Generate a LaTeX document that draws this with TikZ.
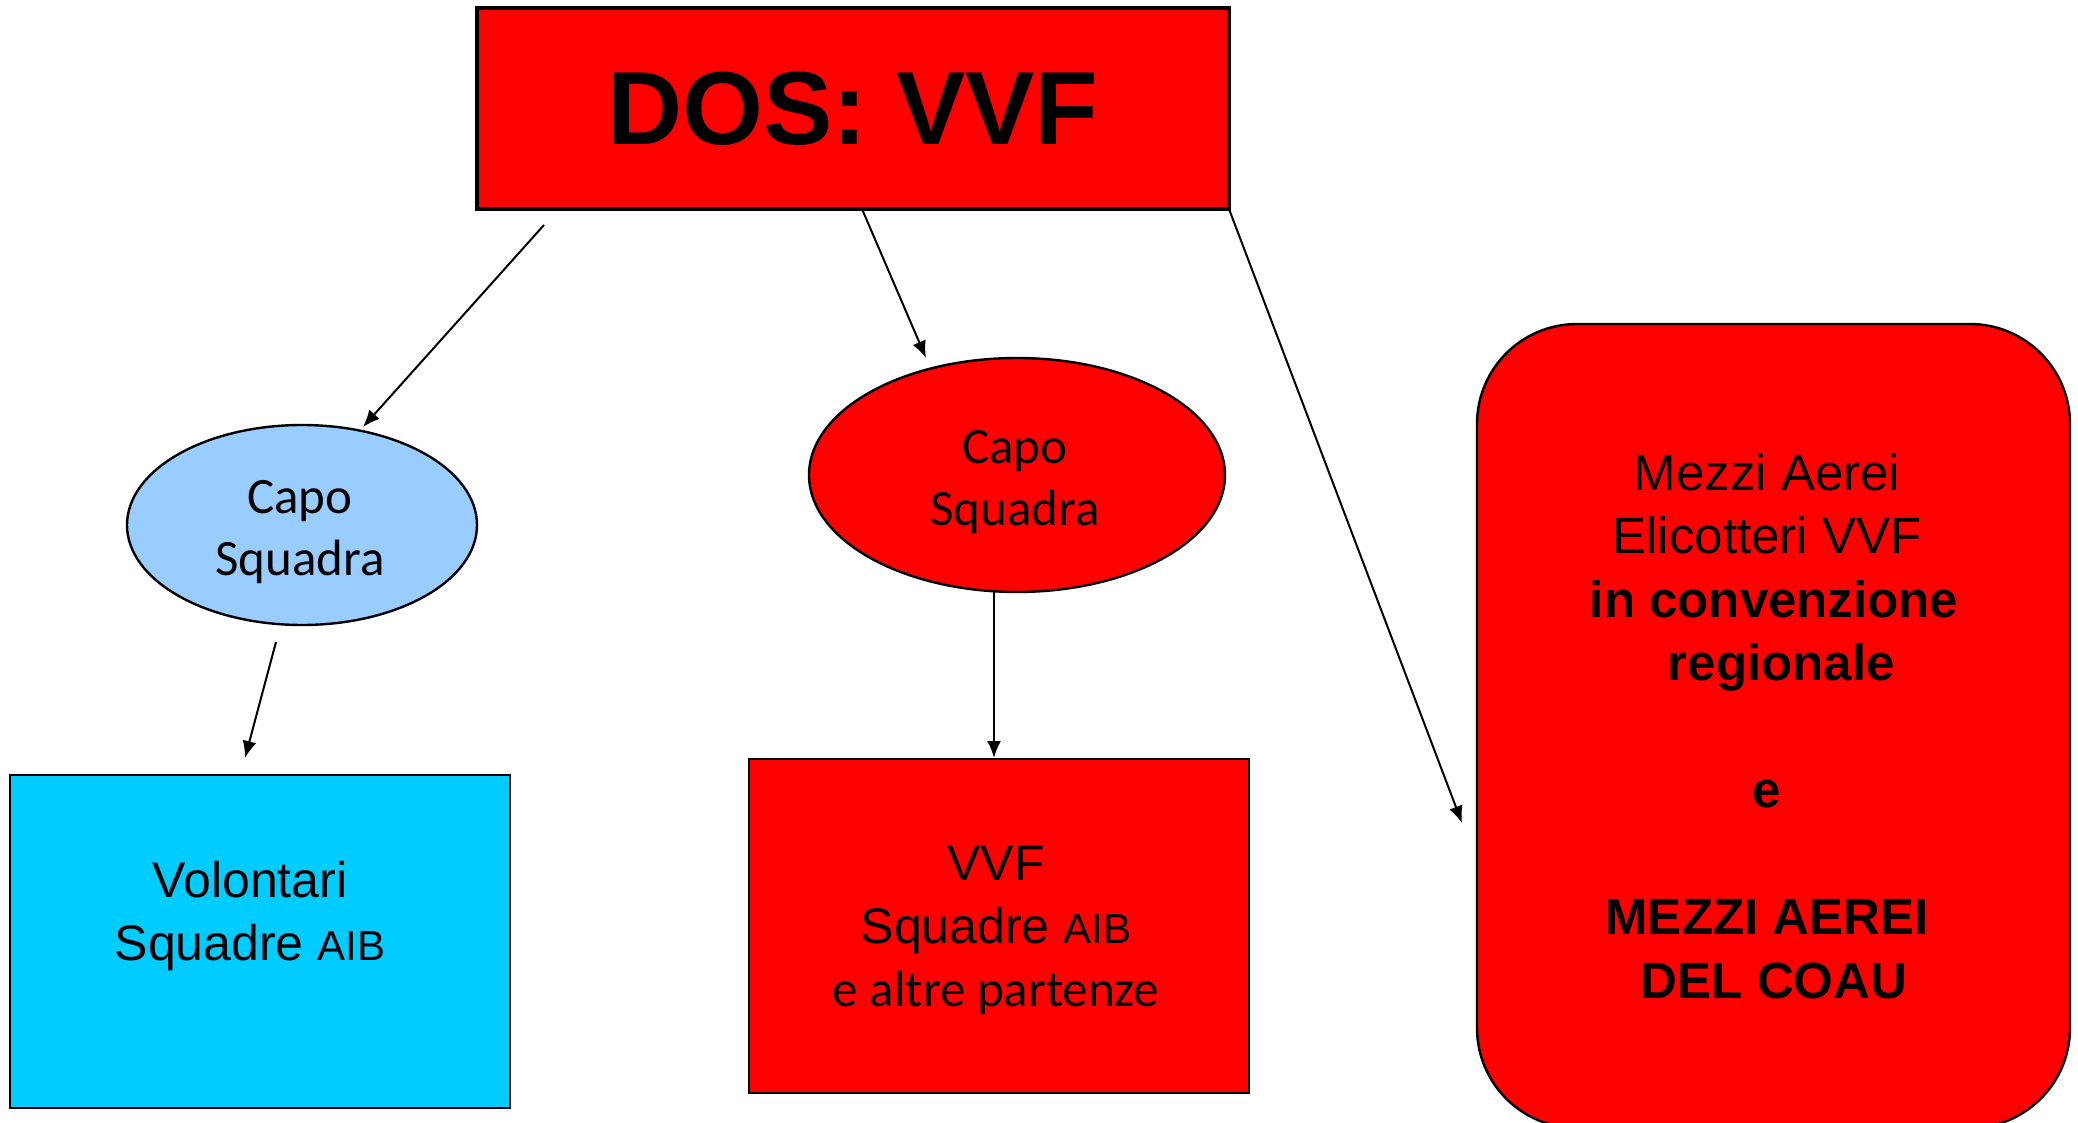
\documentclass[tikz,border=0pt]{standalone}
\usepackage{fontspec}
\setmainfont{Liberation Sans}
\newfontfamily\calib{Carlito}
\usetikzlibrary{arrows.meta,shapes.geometric}
\definecolor{vred}{HTML}{FF0000}
\definecolor{lblue}{HTML}{99CCFF}
\definecolor{cbox}{HTML}{00CCFF}
\begin{document}
\begin{tikzpicture}[x=0.5pt,y=-0.5pt,
  boxshape/.style={rectangle, draw=black, line width=1.3pt, inner sep=0pt, outer sep=0pt},
  oval/.style={ellipse, draw=black, line width=1.2pt, inner sep=0pt, outer sep=0pt},
  ovaltxt/.style={align=center, inner sep=0pt, font=\calib\fontsize{25.5}{31}\selectfont},
  conn/.style={-{Latex[length=8.5pt,width=7pt]}, line width=1pt},
  txt/.style={align=center, inner sep=0pt, font=\fontsize{25}{31.5}\selectfont}
]
\useasboundingbox (0,0) rectangle (2078,1123);
\fill[white] (0,0) rectangle (2078,1123);

% top box
\node[boxshape, fill=vred, line width=2pt, minimum width=376pt, minimum height=100.5pt,
  font=\bfseries\fontsize{52}{60}\selectfont] (dos) at (853,108.5) {DOS: VVF};

% ellipses
\node[oval, fill=lblue, minimum width=175pt, minimum height=100pt] (cs1) at (302,525) {};
\node[ovaltxt] (cs1txt) at (300,532) {Capo\\Squadra};
\node[oval, fill=vred, minimum width=208pt, minimum height=117pt] (cs2) at (1017,475) {};
\node[ovaltxt] (cs2txt) at (1015,482) {Capo\\Squadra};

% blue box
\node[boxshape, fill=cbox, minimum width=250pt, minimum height=166.5pt] (vol) at (260,941.5) {};
\node[txt] (voltxt) at (250,916) {Volontari\\Squadre {\fontsize{21}{31.5}\selectfont AIB}};

% middle red box
\node[boxshape, fill=vred, minimum width=250pt, minimum height=167pt] (vvf) at (999,926) {};
\node[txt] (vvftxt) at (996,930)
  {VVF\\Squadre {\fontsize{21}{31.5}\selectfont AIB}\\{\calib\fontsize{25.5}{31.5}\selectfont e altre partenze}};

% right rounded box
\node[rectangle, draw=black, line width=1.2pt, rounded corners=50pt, fill=vred,
  minimum width=296.5pt, minimum height=402pt, inner sep=0pt] (aerei) at (1773.5,726) {};
\node[align=center, inner sep=0pt, font=\fontsize{25.5}{31.75}\selectfont] (aereitxt) at (1767,726)
  {Mezzi Aerei\\Elicotteri VVF\\\textbf{\ in convenzione}\\\textbf{\ \ regionale}\\~\\\textbf{e}\\~\\\textbf{MEZZI AEREI}\\\textbf{\ DEL COAU}};

% connector end points
\coordinate (a1s) at (544,225);
\coordinate (a1e) at (363,427);
\coordinate (a2s) at (862,209);
\coordinate (a2e) at (926,358);
\coordinate (a3e) at (1462,823);
\coordinate (a4s) at (276,642);
\coordinate (a4e) at (245,758);
\coordinate (a5s) at (994,592);
\coordinate (a5e) at (994,758);

\draw[conn] (a1s) -- (a1e);
\draw[conn] (a2s) -- (a2e);
\draw[conn] (dos.south east) -- (a3e);
\draw[conn] (a4s) -- (a4e);
\draw[conn] (a5s) -- (a5e);
\end{tikzpicture}
\end{document}
